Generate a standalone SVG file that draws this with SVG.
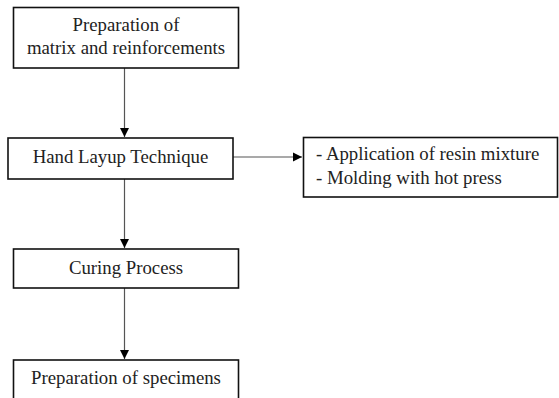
<svg xmlns="http://www.w3.org/2000/svg" width="559" height="398" viewBox="0 0 559 398">
<style>
.box{fill:#fff;stroke:#111;stroke-width:1.6}
.t{font-family:"Liberation Serif","Times New Roman",serif;font-size:18.8px;fill:#222}
.c{text-anchor:middle}
.ln{stroke:#555;stroke-width:1.2;fill:none}
</style>
<defs>
<marker id="ah" markerWidth="10" markerHeight="10" refX="9" refY="5" orient="auto" markerUnits="userSpaceOnUse">
<path d="M0,0.5 L9,5 L0,9.5 Z" fill="#000"/>
</marker>
</defs>
<rect width="559" height="398" fill="#fff"/>
<g id="connectors">
<line class="ln" x1="124.5" y1="68" x2="124.5" y2="137" marker-end="url(#ah)"/>
<line class="ln" x1="124.5" y1="179" x2="124.5" y2="248" marker-end="url(#ah)"/>
<line class="ln" x1="124.5" y1="288" x2="124.5" y2="359" marker-end="url(#ah)"/>
<line class="ln" x1="233" y1="157" x2="302" y2="157" marker-end="url(#ah)"/>
</g>
<g id="n1">
<rect class="box" x="13.5" y="7.5" width="225" height="60.5"/>
<text class="t c" x="126" y="31">Preparation of</text>
<text class="t c" x="126" y="54">matrix and reinforcements</text>
</g>
<g id="n2">
<rect class="box" x="8" y="138" width="225" height="41"/>
<text class="t c" x="120.5" y="163">Hand Layup Technique</text>
</g>
<g id="n3">
<rect class="box" x="303.5" y="137.5" width="254" height="59.5"/>
<text class="t" x="316" y="160">- Application of resin mixture</text>
<text class="t" x="316" y="184">- Molding with hot press</text>
</g>
<g id="n4">
<rect class="box" x="13.5" y="249" width="225" height="39"/>
<text class="t c" x="126" y="274">Curing Process</text>
</g>
<g id="n5">
<rect class="box" x="13.5" y="360" width="225" height="45"/>
<text class="t c" x="126" y="384">Preparation of specimens</text>
</g>
</svg>
